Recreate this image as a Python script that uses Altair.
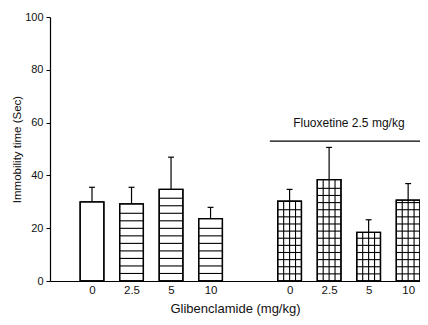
import altair as alt
import pandas as pd

# ---- data ----
doses = ["0", "2.5", "5", "10"]
veh_means = [30.0, 29.2, 34.7, 23.6]
veh_sem = [5.5, 6.3, 12.2, 4.3]
flx_means = [30.2, 38.4, 18.4, 30.6]
flx_sem = [4.5, 12.2, 4.8, 6.3]
group_label = "Fluoxetine 2.5 mg/kg"
bracket_y = 53.0
label_y = 60.0

# ---- build tables ----
rows = []
for i, d in enumerate(doses):
    rows.append(dict(slot=i, dose=d, mean=veh_means[i], sem=veh_sem[i],
                     pattern="open" if i == 0 else "hline"))
for i, d in enumerate(doses):
    rows.append(dict(slot=5 + i, dose=d, mean=flx_means[i], sem=flx_sem[i],
                     pattern="grid"))
df = pd.DataFrame(rows)
df["x0"] = df["slot"] - 0.3
df["x1"] = df["slot"] + 0.3
df["top"] = df["mean"] + df["sem"]
df["c0"] = df["slot"] - 0.075
df["c1"] = df["slot"] + 0.075
df["zero"] = 0.0

# hatch lines (style only, derived from bars)
hl = []
vl = []
for _, r in df.iterrows():
    if r["pattern"] == "hline":
        step = 2.85
    elif r["pattern"] == "grid":
        step = 2.7
    else:
        continue
    k = 1
    while k * step < r["mean"] - 0.8:
        hl.append(dict(x0=r["x0"], x1=r["x1"], y=k * step))
        k += 1
    if r["pattern"] == "grid":
        for off in (-0.15, 0.0, 0.15):
            vl.append(dict(x=r["slot"] + off, y0=0.0, y1=r["mean"]))
hdf = pd.DataFrame(hl)
vdf = pd.DataFrame(vl)

labels_by_slot = doses + [""] + doses
label_expr = "[" + ",".join("'%s'" % s for s in labels_by_slot) + "][datum.value]"

xscale = alt.Scale(domain=[-1.063, 8.30], nice=False, zero=False)
yscale = alt.Scale(domain=[0, 100], nice=False)
FONT = "Liberation Sans"

xaxis = alt.Axis(values=[0, 1, 2, 3, 5, 6, 7, 8], labelExpr=label_expr, ticks=False,
                 grid=False, domainColor="black", domainWidth=1.2, labelFontSize=11.5,
                 labelColor="#111", labelPadding=3, labelFont=FONT, title="Glibenclamide (mg/kg)",
                 titleFont=FONT, titleFontSize=13, titleFontWeight="normal", titleColor="#111",
                 titlePadding=7)
yaxis = alt.Axis(values=[0, 20, 40, 60, 80, 100], tickSize=4, tickColor="black", grid=False,
                 domainColor="black", domainWidth=1.2, labelFontSize=11, labelColor="#111",
                 labelFont=FONT, labelPadding=3, title="Immobility time (Sec)", titleFont=FONT,
                 titleFontSize=11.5, titleFontWeight="normal", titleColor="#111", titlePadding=2)

base = alt.Chart(df)
bars = base.mark_bar(fill="white", stroke="black", strokeWidth=1.3).encode(
    x=alt.X("x0:Q", scale=xscale, axis=xaxis),
    x2="x1:Q",
    y=alt.Y("mean:Q", scale=yscale, axis=yaxis),
    y2="zero:Q",
)
hatch = alt.Chart(hdf).mark_rule(color="black", strokeWidth=1.1).encode(
    x=alt.X("x0:Q", scale=xscale), x2="x1:Q", y=alt.Y("y:Q", scale=yscale))
vhatch = alt.Chart(vdf).mark_rule(color="black", strokeWidth=1.1).encode(
    x=alt.X("x:Q", scale=xscale), y=alt.Y("y0:Q", scale=yscale), y2="y1:Q")
err = base.mark_rule(color="black", strokeWidth=1.2).encode(
    x=alt.X("slot:Q", scale=xscale), y=alt.Y("mean:Q", scale=yscale), y2="top:Q")
cap = base.mark_rule(color="black", strokeWidth=1.2).encode(
    x=alt.X("c0:Q", scale=xscale), x2="c1:Q", y=alt.Y("top:Q", scale=yscale))
outline = base.mark_bar(fillOpacity=0, stroke="black", strokeWidth=1.3).encode(
    x=alt.X("x0:Q", scale=xscale), x2="x1:Q", y=alt.Y("mean:Q", scale=yscale), y2="zero:Q")

ann = pd.DataFrame([dict(x0=4.5, x1=8.30, y=bracket_y, tx=6.5, ty=label_y, text=group_label)])
bracket = alt.Chart(ann).mark_rule(color="black", strokeWidth=1.1).encode(
    x=alt.X("x0:Q", scale=xscale), x2="x1:Q", y=alt.Y("y:Q", scale=yscale))
txt = alt.Chart(ann).mark_text(font=FONT, fontSize=12, color="#111", baseline="middle").encode(
    x=alt.X("tx:Q", scale=xscale), y=alt.Y("ty:Q", scale=yscale), text="text:N")

chart = alt.layer(bars, hatch, vhatch, outline, err, cap, bracket, txt).properties(
    width=370, height=264, autosize=alt.AutoSizeParams(type="none"),
    padding={"left": 42, "top": 9, "right": 0, "bottom": 37},
    background="white",
).configure_view(stroke=None)

chart.save("out.html", embed_options={"renderer": "svg", "actions": False})
